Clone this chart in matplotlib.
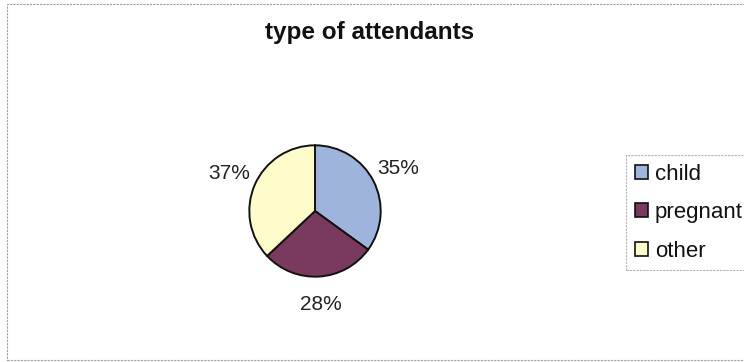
import matplotlib.pyplot as plt
from matplotlib.patches import Rectangle, Patch

labels = ["child", "pregnant", "other"]
shares = [35, 28, 37]
colors = ["#9fb4dc", "#7a3a5e", "#fffccc"]
title = "type of attendants"

plt.rcParams['font.family'] = ['Liberation Sans', 'DejaVu Sans']

W, H = 744, 362
fig = plt.figure(figsize=(W / 100, H / 100), dpi=100)
fig.patch.set_facecolor("white")

# outer chart frame (runs off the right edge like the screenshot)
fig.patches.append(Rectangle((7 / W, 2 / H), 1.2, (H - 6) / H, transform=fig.transFigure,
                             fill=False, edgecolor="#a0a0a0", linewidth=0.8, linestyle=(0, (2, 1))))

cx, cy, r = 315, H - 211, 67
ax = fig.add_axes([(cx - r) / W, (cy - r) / H, 2 * r / W, 2 * r / H])
ax.pie(shares, colors=colors, startangle=90, counterclock=False,
       autopct="%d%%", pctdistance=1.42,
       wedgeprops=dict(edgecolor="#111111", linewidth=1.4),
       textprops=dict(fontsize=15, color="#222222"))
ax.set_xlim(-1.02, 1.02)
ax.set_ylim(-1.02, 1.02)
ax.set_aspect("equal")

fig.text(370 / W, 1 - 33 / H, title, ha="center", va="center",
         fontsize=17.5, fontweight="bold", color="#111111")

handles = [Patch(facecolor=c, edgecolor="#111111", linewidth=1.2) for c in colors]
leg = fig.legend(handles, labels, loc="upper left", bbox_to_anchor=(626 / W, 1 - 155 / H),
                 fontsize=16, frameon=True, fancybox=False, labelspacing=0.78,
                 handlelength=0.6, handleheight=0.6, handletextpad=0.3, borderpad=0.4,
                 borderaxespad=0)
for t in leg.get_texts():
    t.set_color("#111111")
leg.get_frame().set_edgecolor("#a0a0a0")
leg.get_frame().set_linewidth(0.8)
leg.get_frame().set_linestyle((0, (2, 1)))

fig.savefig("out.png", dpi=100, facecolor="white")
